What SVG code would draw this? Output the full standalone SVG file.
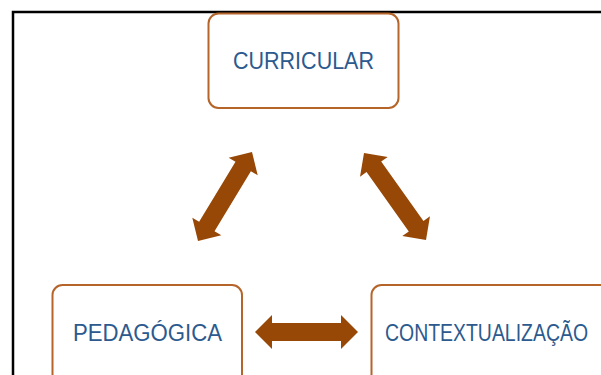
<svg xmlns="http://www.w3.org/2000/svg" width="601" height="375" viewBox="0 0 601 375">
<style>
.node rect{fill:#ffffff;stroke:#B5652A;stroke-width:2}
.node text{font-family:"Liberation Sans",Arial,sans-serif;font-size:23.5px;fill:#2C5A8E;text-anchor:middle}
.arrow{fill:#974806}
</style>
<rect x="0" y="0" width="601" height="375" fill="#ffffff"/>
<rect x="13" y="12" width="620" height="420" fill="none" stroke="#000000" stroke-width="2.5"/>
<g id="connectors">
<polygon class="arrow" points="252,152 257.71,175.35 250.87,171.2 214.51,231.14 221.35,235.29 198,241 192.29,217.65 199.13,221.8 235.49,161.86 228.65,157.71"/>
<polygon class="arrow" points="364,153 387.71,156.97 381.2,161.62 423.46,220.94 429.97,216.29 426,240 402.29,236.03 408.8,231.38 366.54,172.06 360.03,176.71"/>
<polygon class="arrow" points="255,332 272,315 272,323 341,323 341,315 358,332 341,349 341,341 272,341 272,349"/>
</g>
<g id="curricular" class="node">
<rect x="208.5" y="13.5" width="190" height="94.5" rx="10"/>
<text x="303.5" y="68.5" textLength="141" lengthAdjust="spacingAndGlyphs">CURRICULAR</text>
</g>
<g id="pedagogica" class="node">
<rect x="52.5" y="285" width="189.5" height="130" rx="10"/>
<text x="147.5" y="340.5" textLength="149" lengthAdjust="spacingAndGlyphs">PEDAGÓGICA</text>
</g>
<g id="contextualizacao" class="node">
<rect x="371.5" y="285" width="245" height="130" rx="10"/>
<text x="486.5" y="340.5" textLength="203" lengthAdjust="spacingAndGlyphs">CONTEXTUALIZAÇÃO</text>
</g>
</svg>
